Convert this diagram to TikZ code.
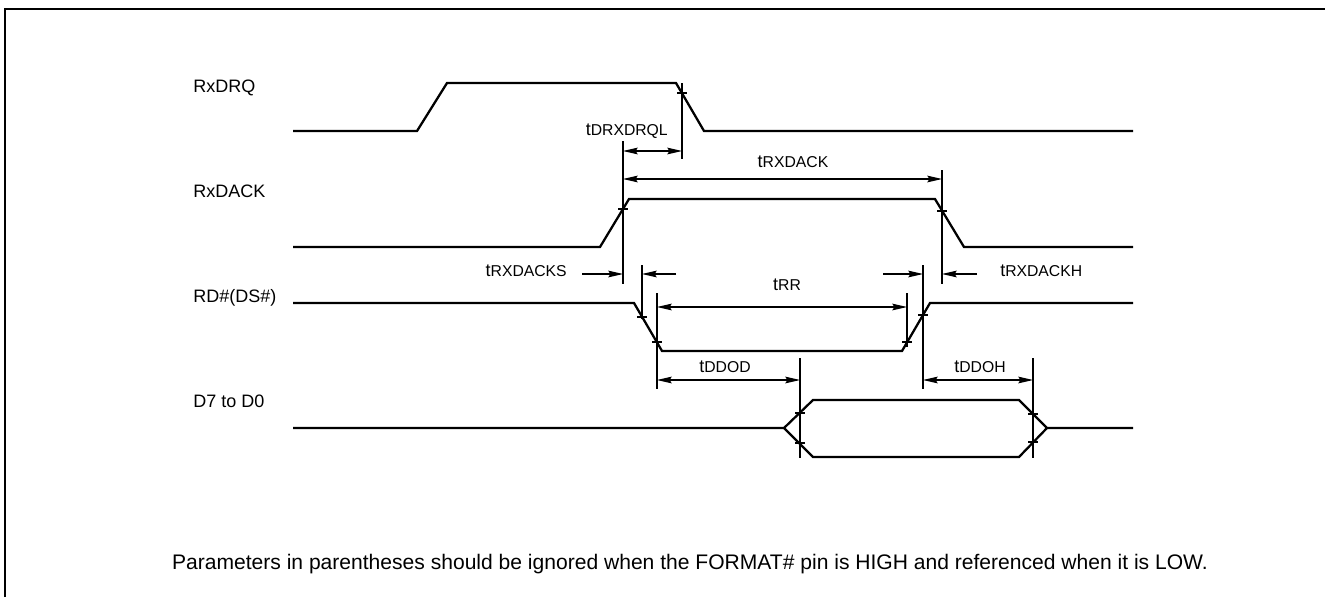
\documentclass[tikz,border=0pt]{standalone}
\usepackage{fontspec}
\setmainfont{Liberation Sans}
\usetikzlibrary{arrows.meta}
\newcommand{\tsub}[1]{t{\fontsize{11.8}{14}\selectfont #1}}
\begin{document}
\begin{tikzpicture}[x=0.75pt,y=-0.75pt,
  frame/.style={line width=1.5pt},
  wave/.style={line width=1.7pt, line join=miter},
  ext/.style={line width=0.8pt},
  tick/.style={line width=1pt},
  dimboth/.style={line width=0.8pt, {Stealth[length=11pt,width=5pt,inset=1.5pt]}-{Stealth[length=11pt,width=5pt,inset=1.5pt]}},
  dimin/.style={line width=0.8pt, -{Stealth[length=11pt,width=5pt,inset=1.5pt]}},
  siglabel/.style={anchor=west, inner sep=0pt, text height=9.7pt, text depth=0pt, font=\fontsize{13.5}{16}\selectfont},
  tlabel/.style={inner sep=0pt, text height=9.7pt, text depth=0pt, font=\fontsize{13.5}{16}\selectfont},
  note/.style={inner sep=0pt, text height=11pt, text depth=0pt, font=\fontsize{15.8}{18}\selectfont}
]
\useasboundingbox (0,0) rectangle (1325,597);
% frame (open at right and bottom)
\draw[frame] (5,597) -- (5,9) -- (1325,9);

% signal names
\node[siglabel] (lrxdrq) at (193,86) {RxDRQ};
\node[siglabel] (lrxdack) at (193,191) {RxDACK};
\node[siglabel] (lrd) at (193,296) {RD\#(DS\#)};
\node[siglabel] (ld) at (193,401) {D7 to D0};

% waveforms
\draw[wave] (293,131) -- (417,131) -- (447,83) -- (676,83) -- (704,131) -- (1133,131);
\draw[wave] (293,247) -- (600,247) -- (629,199) -- (935,199) -- (964,247) -- (1133,247);
\draw[wave] (293,303) -- (634,303) -- (662,351) -- (902,351) -- (930,303) -- (1133,303);
\draw[wave] (293,428) -- (784,428) -- (813,400) -- (1019,400) -- (1047,428) -- (1133,428);
\draw[wave] (784,428) -- (813,457) -- (1019,457) -- (1047,428);

% extension lines
\draw[ext] (682,83) -- (682,159);
\draw[ext] (623,141) -- (623,284);
\draw[ext] (942,170) -- (942,284);
\draw[ext] (642,265) -- (642,319);
\draw[ext] (657,293) -- (657,389);
\draw[ext] (907,293) -- (907,347);
\draw[ext] (923,265) -- (923,389);
\draw[ext] (800,358) -- (800,458);
\draw[ext] (1033,358) -- (1033,458);

% crossing ticks
\foreach \x/\y in {682/93, 623/209, 942/211, 642/317, 657/342, 907/342, 923/315, 800/413, 800/443, 1033/414, 1033/442}
  \draw[tick] (\x-5,\y) -- (\x+5,\y);

% dimension coordinates
\coordinate (a1) at (623,151); \coordinate (a2) at (682,151);
\coordinate (b1) at (623,179); \coordinate (b2) at (942,179);
\coordinate (s0) at (582,274); \coordinate (s1) at (623,274);
\coordinate (s2) at (642,274); \coordinate (s3) at (676,274);
\coordinate (h0) at (883,274); \coordinate (h1) at (923,274);
\coordinate (h2) at (942,274); \coordinate (h3) at (977,274);
\coordinate (r1) at (657,307); \coordinate (r2) at (907,307);
\coordinate (d1) at (657,380); \coordinate (d2) at (800,380);
\coordinate (e1) at (923,380); \coordinate (e2) at (1033,380);

\draw[dimboth] (a1) -- (a2);
\draw[dimboth] (b1) -- (b2);
\draw[dimin] (s0) -- (s1);
\draw[dimin] (s3) -- (s2);
\draw[dimin] (h0) -- (h1);
\draw[dimin] (h3) -- (h2);
\draw[dimboth] (r1) -- (r2);
\draw[dimboth] (d1) -- (d2);
\draw[dimboth] (e1) -- (e2);

% timing labels
\node[tlabel, anchor=east] (tdrq) at (668,129) {\tsub{DRXDRQL}};
\node[tlabel] (tack) at (793,161) {\tsub{RXDACK}};
\node[tlabel, anchor=east] (tacks) at (567,270) {\tsub{RXDACKS}};
\node[tlabel, anchor=west] (tackh) at (1000,270) {\tsub{RXDACKH}};
\node[tlabel] (trr) at (787,284) {\tsub{RR}};
\node[tlabel] (tddod) at (725,366) {\tsub{DDOD}};
\node[tlabel] (tddoh) at (980,366) {\tsub{DDOH}};

% note
\node[note] (nt) at (690,562) {Parameters in parentheses should be ignored when the FORMAT\# pin is HIGH and referenced when it is LOW.};
\end{tikzpicture}
\end{document}
